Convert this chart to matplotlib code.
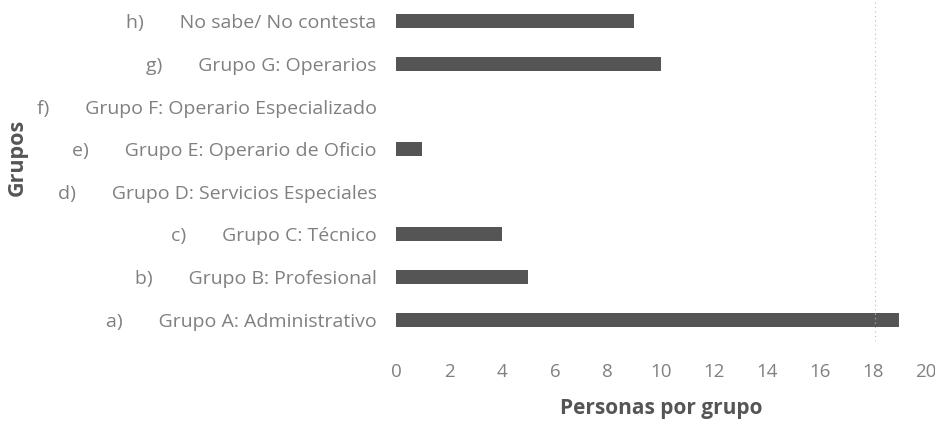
import numpy as np
import matplotlib
matplotlib.use("Agg")
import matplotlib.pyplot as plt

# data
grupos = ["a)       Grupo A: Administrativo",
          "b)       Grupo B: Profesional",
          "c)       Grupo C: Técnico",
          "d)       Grupo D: Servicios Especiales",
          "e)       Grupo E: Operario de Oficio",
          "f)       Grupo F: Operario Especializado",
          "g)       Grupo G: Operarios",
          "h)       No sabe/ No contesta"]
personas = [19, 5, 4, 0, 1, 0, 10, 9]
xticks = [0, 2, 4, 6, 8, 10, 12, 14, 16, 18, 20]

plt.rcParams['font.family'] = ['Open Sans', 'DejaVu Sans']

fig = plt.figure(figsize=(9.35, 4.24), dpi=100)
ax = fig.add_axes([0.4235, 0.196, 0.5665, 0.804])

y = np.arange(len(grupos))
ax.barh(y, personas, height=0.33, color="#555555")

# faint dotted line seen near 18 in the original
ax.axvline(18.1, color="#bbbbbb", lw=0.8, ls=(0, (1, 3)))

ax.set_xlim(0, 20)
ax.set_ylim(-0.5, len(grupos) - 0.5)
ax.set_xticks(xticks)
ax.set_yticks(y)
ax.set_yticklabels(grupos, fontsize=14)

for s in ax.spines.values():
    s.set_visible(False)
ax.tick_params(axis="both", length=0, colors="#808080")
ax.tick_params(axis="x", labelsize=13.5, pad=16)
ax.tick_params(axis="y", pad=14)

ax.set_xlabel("Personas por grupo", fontsize=15, fontweight="bold",
              color="#555555", labelpad=12)
fig.text(0.018, 0.63, "Grupos", rotation=90, fontsize=15.5, fontweight="bold",
         color="#555555", ha="center", va="center")

fig.savefig("out.png", dpi=100)
